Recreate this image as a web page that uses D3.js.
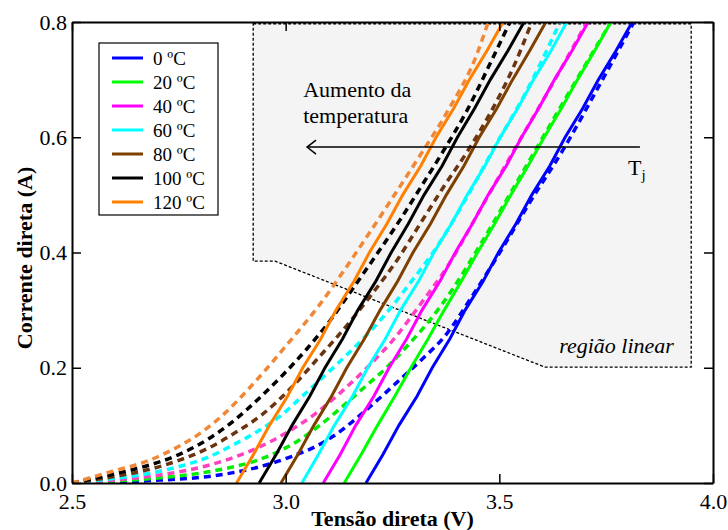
<!DOCTYPE html>
<meta charset="utf-8">

<!-- Load the D3.js files -->
<script src="https://d3js.org/d3.v7.min.js"></script>

<style>
  body { margin: 0; background: #fff; }
  text { font-family: "Liberation Serif", "Times New Roman", serif; }
</style>

<body>
<div id="my_visual"></div>
<script>

// Temperature labels and colours (solid = measured, dashed = model)
var temps = ["0 ºC", "20 ºC", "40 ºC", "60 ºC", "80 ºC", "100 ºC", "120 ºC"];
var colors = ["#0000ff", "#00ff00", "#ff00ff", "#00ffff", "#7f3f00", "#000000", "#ff8000"];
var dashColors = ["#0000ff", "#00ee00", "#ff40c0", "#00ffff", "#6b3410", "#000000", "#f08838"];

var xTicks = [2.5, 3.0, 3.5, 4.0];
var yTicks = [0.0, 0.2, 0.4, 0.6, 0.8];

// current levels for the measured (solid) curves
var current = [0, 0.05, 0.1, 0.15, 0.2, 0.25, 0.3, 0.35, 0.4, 0.45, 0.5, 0.55, 0.6, 0.65, 0.7, 0.75, 0.8];

// voltage of each measured curve at the levels above
var v0   = [3.188, 3.228, 3.265, 3.307, 3.343, 3.384, 3.420, 3.462, 3.498, 3.539, 3.576, 3.618, 3.654, 3.695, 3.732, 3.773, 3.811];
var v20  = [3.137, 3.177, 3.215, 3.255, 3.293, 3.333, 3.371, 3.411, 3.449, 3.489, 3.527, 3.567, 3.605, 3.645, 3.683, 3.723, 3.761];
var v40  = [3.088, 3.128, 3.164, 3.206, 3.242, 3.283, 3.319, 3.361, 3.397, 3.437, 3.474, 3.516, 3.552, 3.592, 3.629, 3.670, 3.708];
var v60  = [3.038, 3.077, 3.114, 3.156, 3.192, 3.233, 3.269, 3.311, 3.347, 3.388, 3.425, 3.466, 3.502, 3.543, 3.580, 3.621, 3.658];
var v80  = [2.989, 3.029, 3.066, 3.107, 3.143, 3.184, 3.221, 3.262, 3.298, 3.339, 3.376, 3.417, 3.453, 3.494, 3.531, 3.571, 3.609];
var v100 = [2.938, 2.978, 3.015, 3.056, 3.092, 3.133, 3.169, 3.211, 3.247, 3.287, 3.324, 3.366, 3.402, 3.442, 3.479, 3.520, 3.558];
var v120 = [2.885, 2.925, 2.962, 3.004, 3.040, 3.082, 3.118, 3.160, 3.196, 3.237, 3.274, 3.316, 3.352, 3.393, 3.430, 3.471, 3.509];

// model curves (dashed), [voltage, current]
var m0 = [[2.500,0.000],[2.612,0.002],[2.706,0.005],[2.816,0.011],[2.877,0.018],[2.933,0.027],[3.010,0.045],[3.069,0.063],[3.111,0.081],[3.167,0.113],[3.221,0.148],[3.261,0.175],[3.318,0.214],[3.375,0.257],[3.431,0.318],[3.502,0.401],[3.572,0.488],[3.649,0.578],[3.731,0.686],[3.815,0.800]];
var m20 = [[2.500,0.000],[2.612,0.004],[2.706,0.009],[2.816,0.019],[2.877,0.028],[2.924,0.037],[3.003,0.062],[3.080,0.100],[3.127,0.129],[3.181,0.164],[3.237,0.201],[3.291,0.243],[3.338,0.283],[3.392,0.338],[3.455,0.413],[3.548,0.531],[3.642,0.651],[3.761,0.800]];
var m40 = [[2.500,0.000],[2.612,0.006],[2.706,0.014],[2.816,0.030],[2.877,0.044],[2.940,0.063],[3.010,0.091],[3.069,0.120],[3.127,0.156],[3.186,0.197],[3.251,0.248],[3.321,0.316],[3.378,0.375],[3.455,0.474],[3.548,0.595],[3.630,0.700],[3.705,0.800]];
var m60 = [[2.500,0.000],[2.589,0.007],[2.683,0.017],[2.753,0.029],[2.816,0.044],[2.877,0.066],[2.935,0.090],[2.987,0.116],[3.041,0.152],[3.104,0.195],[3.174,0.245],[3.244,0.302],[3.284,0.340],[3.354,0.410],[3.427,0.500],[3.492,0.587],[3.565,0.682],[3.642,0.800]];
var m80 = [[2.500,0.000],[2.589,0.010],[2.683,0.024],[2.753,0.040],[2.823,0.062],[2.877,0.085],[2.947,0.120],[3.010,0.163],[3.080,0.220],[3.144,0.274],[3.202,0.328],[3.261,0.387],[3.314,0.449],[3.368,0.512],[3.424,0.574],[3.478,0.641],[3.532,0.720],[3.576,0.800]];
var m100 = [[2.500,0.000],[2.589,0.014],[2.676,0.030],[2.746,0.048],[2.816,0.075],[2.877,0.107],[2.935,0.145],[2.994,0.188],[3.050,0.233],[3.104,0.282],[3.151,0.331],[3.204,0.387],[3.268,0.457],[3.321,0.519],[3.368,0.575],[3.424,0.646],[3.485,0.738],[3.525,0.800]];
var m120 = [[2.500,0.000],[2.589,0.019],[2.676,0.038],[2.746,0.062],[2.807,0.090],[2.853,0.118],[2.924,0.172],[3.003,0.240],[3.080,0.310],[3.134,0.366],[3.186,0.423],[3.244,0.488],[3.307,0.560],[3.378,0.644],[3.448,0.745],[3.474,0.800]];

// outline of the shaded "região linear" area
var region = [[2.924,0.797],[3.949,0.797],[3.949,0.201],[3.607,0.201],[2.975,0.385],[2.924,0.385]];

var measured = [v0, v20, v40, v60, v80, v100, v120];
var models = [m0, m20, m40, m60, m80, m100, m120];

// The margins of the visual
var margin = {top: 22, right: 15, bottom: 47, left: 72},
    width = 728 - margin.left - margin.right,
    height = 530 - margin.top - margin.bottom;

var svg = d3.select("#my_visual")
  .append("svg")
    .attr("width", width + margin.left + margin.right)
    .attr("height", height + margin.top + margin.bottom)
  .append("g")
    .attr("transform", "translate(" + margin.left + "," + margin.top + ")");

var x = d3.scaleLinear().domain([2.5, 4.0]).range([0, width]);
var y = d3.scaleLinear().domain([0, 0.8]).range([height, 0]);

svg.append("clipPath").attr("id", "clip")
  .append("rect").attr("width", width).attr("height", height);

// shaded region
svg.append("path")
  .datum(region)
  .attr("d", d3.line().x(function(d) { return x(d[0]); }).y(function(d) { return y(d[1]); }).curve(d3.curveLinearClosed))
  .attr("fill", "#f4f4f4")
  .attr("stroke", "#000")
  .attr("stroke-width", 1.3)
  .attr("stroke-dasharray", "3,2");

svg.append("text")
  .attr("x", x(3.640)).attr("y", y(0.226))
  .attr("font-size", 22).attr("font-style", "italic")
  .text("região linear");

var plot = svg.append("g").attr("clip-path", "url(#clip)");

var line = d3.line()
  .x(function(d) { return x(d[0]); })
  .y(function(d) { return y(d[1]); });

// dashed model curves
models.forEach(function(m, i) {
  plot.append("path")
    .datum(m)
    .attr("d", line.curve(d3.curveMonotoneX))
    .attr("fill", "none")
    .attr("stroke", dashColors[i])
    .attr("stroke-width", 3.5)
    .attr("stroke-dasharray", "7,5");
});

// solid measured curves
measured.forEach(function(v, i) {
  var pts = v.map(function(d, k) { return [d, current[k]]; });
  plot.append("path")
    .datum(pts)
    .attr("d", line.curve(d3.curveLinear))
    .attr("fill", "none")
    .attr("stroke", colors[i])
    .attr("stroke-width", 3);
});

// axes: ticks inward on all four sides
svg.append("g")
  .attr("transform", "translate(0," + height + ")")
  .call(d3.axisBottom(x).tickValues(xTicks).tickFormat(d3.format(".1f")).tickSizeInner(-9).tickSizeOuter(0).tickPadding(10));
svg.append("g")
  .call(d3.axisTop(x).tickValues(xTicks).tickFormat("").tickSizeInner(-9).tickSizeOuter(0));
svg.append("g")
  .call(d3.axisLeft(y).tickValues(yTicks).tickFormat(d3.format(".1f")).tickSizeInner(-9).tickSizeOuter(0).tickPadding(5));
svg.append("g")
  .attr("transform", "translate(" + width + ",0)")
  .call(d3.axisRight(y).tickValues(yTicks).tickFormat("").tickSizeInner(-9).tickSizeOuter(0));

svg.selectAll(".domain").attr("stroke-width", 2);
svg.selectAll(".tick line").attr("stroke-width", 1.5);
svg.selectAll(".tick text")
  .attr("font-family", "Liberation Serif, serif")
  .attr("font-size", 22)
  .attr("fill", "#000");

// axis titles
svg.append("text")
  .attr("x", width / 2).attr("y", height + 43)
  .attr("text-anchor", "middle")
  .attr("font-size", 22).attr("font-weight", "bold")
  .text("Tensão direta (V)");

svg.append("text")
  .attr("transform", "rotate(-90)")
  .attr("x", -236).attr("y", -40)
  .attr("text-anchor", "middle")
  .attr("font-size", 22).attr("font-weight", "bold")
  .text("Corrente direta (A)");

// temperature annotation
svg.append("text").attr("x", x(3.041)).attr("y", y(0.670)).attr("font-size", 22).text("Aumento da");
svg.append("text").attr("x", x(3.041)).attr("y", y(0.625)).attr("font-size", 22).text("temperatura");

var ay = y(0.583);
svg.append("line")
  .attr("x1", x(3.829)).attr("x2", x(3.050)).attr("y1", ay).attr("y2", ay)
  .attr("stroke", "#000").attr("stroke-width", 1.5);
svg.append("path")
  .attr("d", "M" + (x(3.050) + 9) + "," + (ay - 7) + "L" + x(3.050) + "," + ay + "L" + (x(3.050) + 9) + "," + (ay + 7))
  .attr("fill", "none").attr("stroke", "#000").attr("stroke-width", 1.5);

var tj = svg.append("text").attr("x", x(3.801)).attr("y", y(0.535)).attr("font-size", 22);
tj.append("tspan").text("T");
tj.append("tspan").attr("font-size", 15).attr("dy", 5).text("j");

// legend
var legend = svg.append("g").attr("transform", "translate(" + (99 - margin.left) + "," + (43 - margin.top) + ")");
legend.append("rect")
  .attr("width", 119).attr("height", 172)
  .attr("fill", "#fff").attr("stroke", "#000").attr("stroke-width", 1.2);

temps.forEach(function(t, i) {
  var ly = 15 + i * 24;
  legend.append("line")
    .attr("x1", 13).attr("x2", 44).attr("y1", ly).attr("y2", ly)
    .attr("stroke", colors[i]).attr("stroke-width", 3);
  legend.append("text")
    .attr("x", 54).attr("y", ly + 7)
    .attr("font-size", 19)
    .text(t);
});

</script>
</body>
</html>
